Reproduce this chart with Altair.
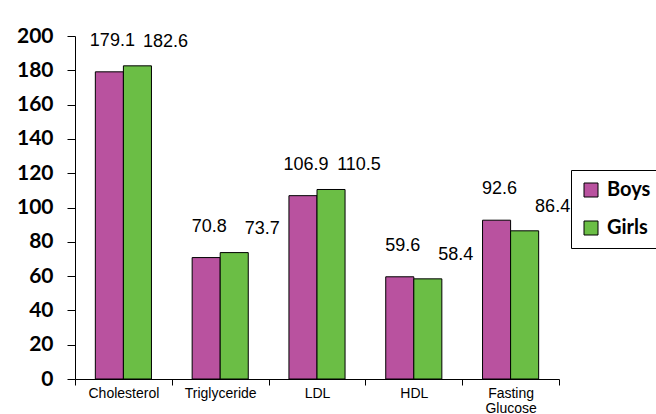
import altair as alt
import pandas as pd

categories = ["Cholesterol", "Triglyceride", "LDL", "HDL", "Fasting Glucose"]
boys = [179.1, 70.8, 106.9, 59.6, 92.6]
girls = [182.6, 73.7, 110.5, 58.4, 86.4]
series = ["Boys", "Girls"]
colors = ["#B9529F", "#6BBE45"]
y_ticks = [0, 20, 40, 60, 80, 100, 120, 140, 160, 180, 200]

rows = []
for c, b, g in zip(categories, boys, girls):
    rows.append({"cat": c, "series": "Boys", "value": b})
    rows.append({"cat": c, "series": "Girls", "value": g})
df = pd.DataFrame(rows)

x_enc = alt.X(
    "cat:N",
    sort=categories,
    title=None,
    scale=alt.Scale(paddingInner=0, paddingOuter=0),
    axis=alt.Axis(
        labelAngle=0,
        labelFont="Liberation Sans",
        labelFontSize=14,
        labelColor="#000000",
        labelExpr="split(datum.label, ' ')",
        labelLineHeight=15,
        labelPadding=1,
        tickBand="extent",
        tickSize=6,
        tickColor="#000000",
        domainColor="#000000",
        grid=False,
    ),
)
xoff = alt.XOffset("series:N", sort=series, scale=alt.Scale(paddingInner=0, paddingOuter=0.725))
y_enc = alt.Y(
    "value:Q",
    title=None,
    scale=alt.Scale(domain=[0, 200], nice=False),
    axis=alt.Axis(
        values=y_ticks,
        tickCount=11,
        labelFont="Lato",
        labelFontWeight="bold",
        labelFontSize=21,
        labelColor="#000000",
        labelPadding=14,
        labelOverlap=False,
        tickSize=8,
        tickColor="#000000",
        domainColor="#000000",
        grid=False,
    ),
)

base = alt.Chart(df)

bars = base.mark_bar(stroke="#000000", strokeWidth=1).encode(
    x=x_enc,
    xOffset=xoff,
    y=y_enc,
    color=alt.Color(
        "series:N",
        sort=series,
        scale=alt.Scale(domain=series, range=colors),
        legend=alt.Legend(
            title=None,
            orient="none",
            legendX=496,
            legendY=134,
            symbolType="square",
            symbolSize=196,
            symbolStrokeColor="#000000",
            symbolStrokeWidth=1,
            labelFont="Lato",
            labelFontWeight="bold",
            labelFontSize=20,
            labelColor="#000000",
            labelOffset=6,
            rowPadding=18,
            padding=10,
            strokeColor="#000000",
            fillColor="#FFFFFF",
        ),
    ),
)

label_boys = base.transform_filter(alt.datum.series == "Boys").mark_text(
    font="Liberation Sans", fontSize=18, color="#000000", dx=3, dy=-31
).encode(x=x_enc, xOffset=xoff, y=y_enc, text=alt.Text("value:Q", format=".1f"))

label_girls = base.transform_filter(alt.datum.series == "Girls").mark_text(
    font="Liberation Sans", fontSize=18, color="#000000", dx=28, dy=-24
).encode(x=x_enc, xOffset=xoff, y=y_enc, text=alt.Text("value:Q", format=".1f"))

chart = (
    alt.layer(bars, label_boys, label_girls)
    .properties(
        width=484,
        height=343,
        autosize=alt.AutoSizeParams(type="none"),
        padding={"left": 75, "top": 36, "right": 97, "bottom": 35},
        background="#FFFFFF",
    )
    .configure_view(stroke=None)
)

chart.save("out.html", embed_options={"renderer": "svg", "actions": False})
